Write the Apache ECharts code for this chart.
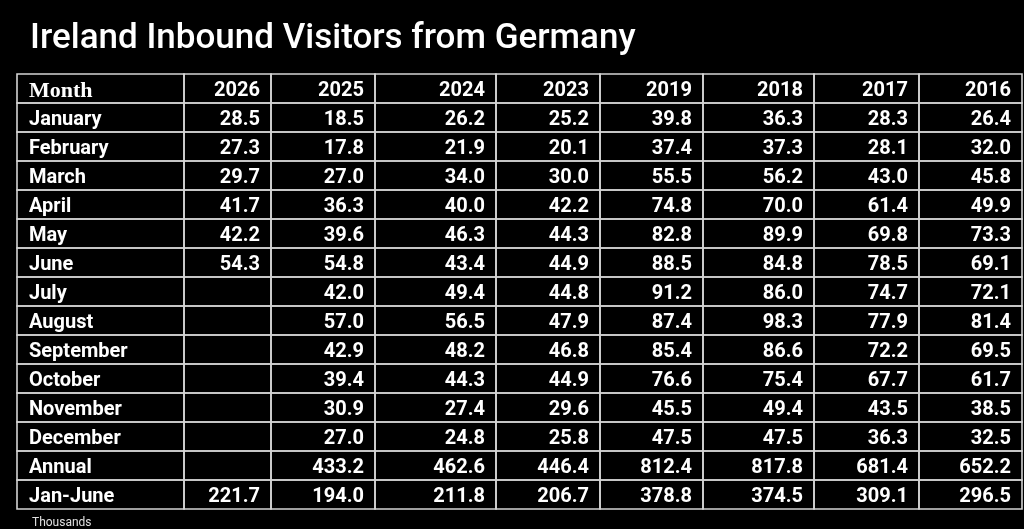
<!DOCTYPE html>
<html>
<head>
<meta charset="utf-8">
<script src="https://cdn.jsdelivr.net/npm/echarts@6/dist/echarts.min.js"></script>
<style>
  html, body { margin: 0; padding: 0; background: #000; }
  #chart { width: 1024px; height: 529px; }
</style>
</head>
<body>
<div id="chart"></div>
<script>
// table contents
const rowLabels = ['January', 'February', 'March', 'April', 'May', 'June', 'July', 'August',
    'September', 'October', 'November', 'December', 'Annual', 'Jan-June'];
const years = ['2026', '2025', '2024', '2023', '2019', '2018', '2017', '2016'];

const v2026 = [28.5, 27.3, 29.7, 41.7, 42.2, 54.3, null, null, null, null, null, null, null, 221.7];
const v2025 = [18.5, 17.8, 27.0, 36.3, 39.6, 54.8, 42.0, 57.0, 42.9, 39.4, 30.9, 27.0, 433.2, 194.0];
const v2024 = [26.2, 21.9, 34.0, 40.0, 46.3, 43.4, 49.4, 56.5, 48.2, 44.3, 27.4, 24.8, 462.6, 211.8];
const v2023 = [25.2, 20.1, 30.0, 42.2, 44.3, 44.9, 44.8, 47.9, 46.8, 44.9, 29.6, 25.8, 446.4, 206.7];
const v2019 = [39.8, 37.4, 55.5, 74.8, 82.8, 88.5, 91.2, 87.4, 85.4, 76.6, 45.5, 47.5, 812.4, 378.8];
const v2018 = [36.3, 37.3, 56.2, 70.0, 89.9, 84.8, 86.0, 98.3, 86.6, 75.4, 49.4, 47.5, 817.8, 374.5];
const v2017 = [28.3, 28.1, 43.0, 61.4, 69.8, 78.5, 74.7, 77.9, 72.2, 67.7, 43.5, 36.3, 681.4, 309.1];
const v2016 = [26.4, 32.0, 45.8, 49.9, 73.3, 69.1, 72.1, 81.4, 69.5, 61.7, 38.5, 32.5, 652.2, 296.5];
const yearValues = [v2026, v2025, v2024, v2023, v2019, v2018, v2017, v2016];

// layout: column widths in pixels (first is the month column)
const colWidths = [167, 87, 104, 121, 104, 103, 111, 105, 103];
const colStarts = [];
colWidths.reduce((acc, w) => { colStarts.push(acc); return acc + w; }, 0);
const tableWidth = colWidths.reduce((a, b) => a + b, 0);

const yCats = ['Month'].concat(rowLabels);

// build cells: [colStart, rowIndex], text kept alongside
const cells = [];
const cellText = [];
const cellCol = [];
function addCell(r, c, txt) {
    cells.push([colStarts[c], r]);
    cellText.push(txt);
    cellCol.push(c);
}
addCell(0, 0, 'Month');
years.forEach((y, i) => addCell(0, i + 1, y));
rowLabels.forEach((m, r) => {
    addCell(r + 1, 0, m);
    yearValues.forEach((vals, i) => {
        const v = vals[r];
        addCell(r + 1, i + 1, v == null ? '' : v.toFixed(1));
    });
});

const myChart = echarts.init(document.getElementById('chart'));
const option = {
    backgroundColor: '#000',
    animation: false,
    title: [
        {
            text: 'Ireland Inbound Visitors from Germany',
            left: 25,
            top: 17,
            textStyle: { color: '#fff', fontSize: 35, fontWeight: 500, fontFamily: 'Roboto' }
        },
        {
            text: 'Thousands',
            left: 27,
            top: 512,
            textStyle: { color: '#e0e0e0', fontSize: 12, fontWeight: 'normal', fontFamily: 'Roboto' }
        }
    ],
    grid: { left: 17, top: 74, width: tableWidth, height: 435 },
    xAxis: { type: 'value', min: 0, max: tableWidth, show: false },
    yAxis: { type: 'category', data: yCats, inverse: true, show: false },
    series: [{
        type: 'custom',
        data: cells,
        encode: { x: 0, y: 1 },
        renderItem: function (params, api) {
            const i = params.dataIndex;
            const c = cellCol[i];
            const x0 = api.value(0);
            const r = api.value(1);
            const p0 = api.coord([x0, r]);
            const p1 = api.coord([x0 + colWidths[c], r]);
            const h = api.size([0, 1])[1];
            const top = p0[1] - h / 2;
            const isHeaderMonth = (r === 0 && c === 0);
            return {
                type: 'group',
                children: [
                    {
                        type: 'rect',
                        shape: { x: p0[0], y: top, width: p1[0] - p0[0], height: h },
                        style: { fill: 'transparent', stroke: '#d4d4d4', lineWidth: 1.6 }
                    },
                    {
                        type: 'text',
                        style: {
                            text: cellText[i],
                            x: c === 0 ? p0[0] + 12 : p1[0] - 11,
                            y: p0[1] + 2.5,
                            align: c === 0 ? 'left' : 'right',
                            verticalAlign: 'middle',
                            fill: '#fff',
                            font: isHeaderMonth
                                ? 'bold 22px "Liberation Serif"'
                                : 'bold 20px Roboto'
                        }
                    }
                ]
            };
        }
    }]
};
myChart.setOption(option);
</script>
</body>
</html>
